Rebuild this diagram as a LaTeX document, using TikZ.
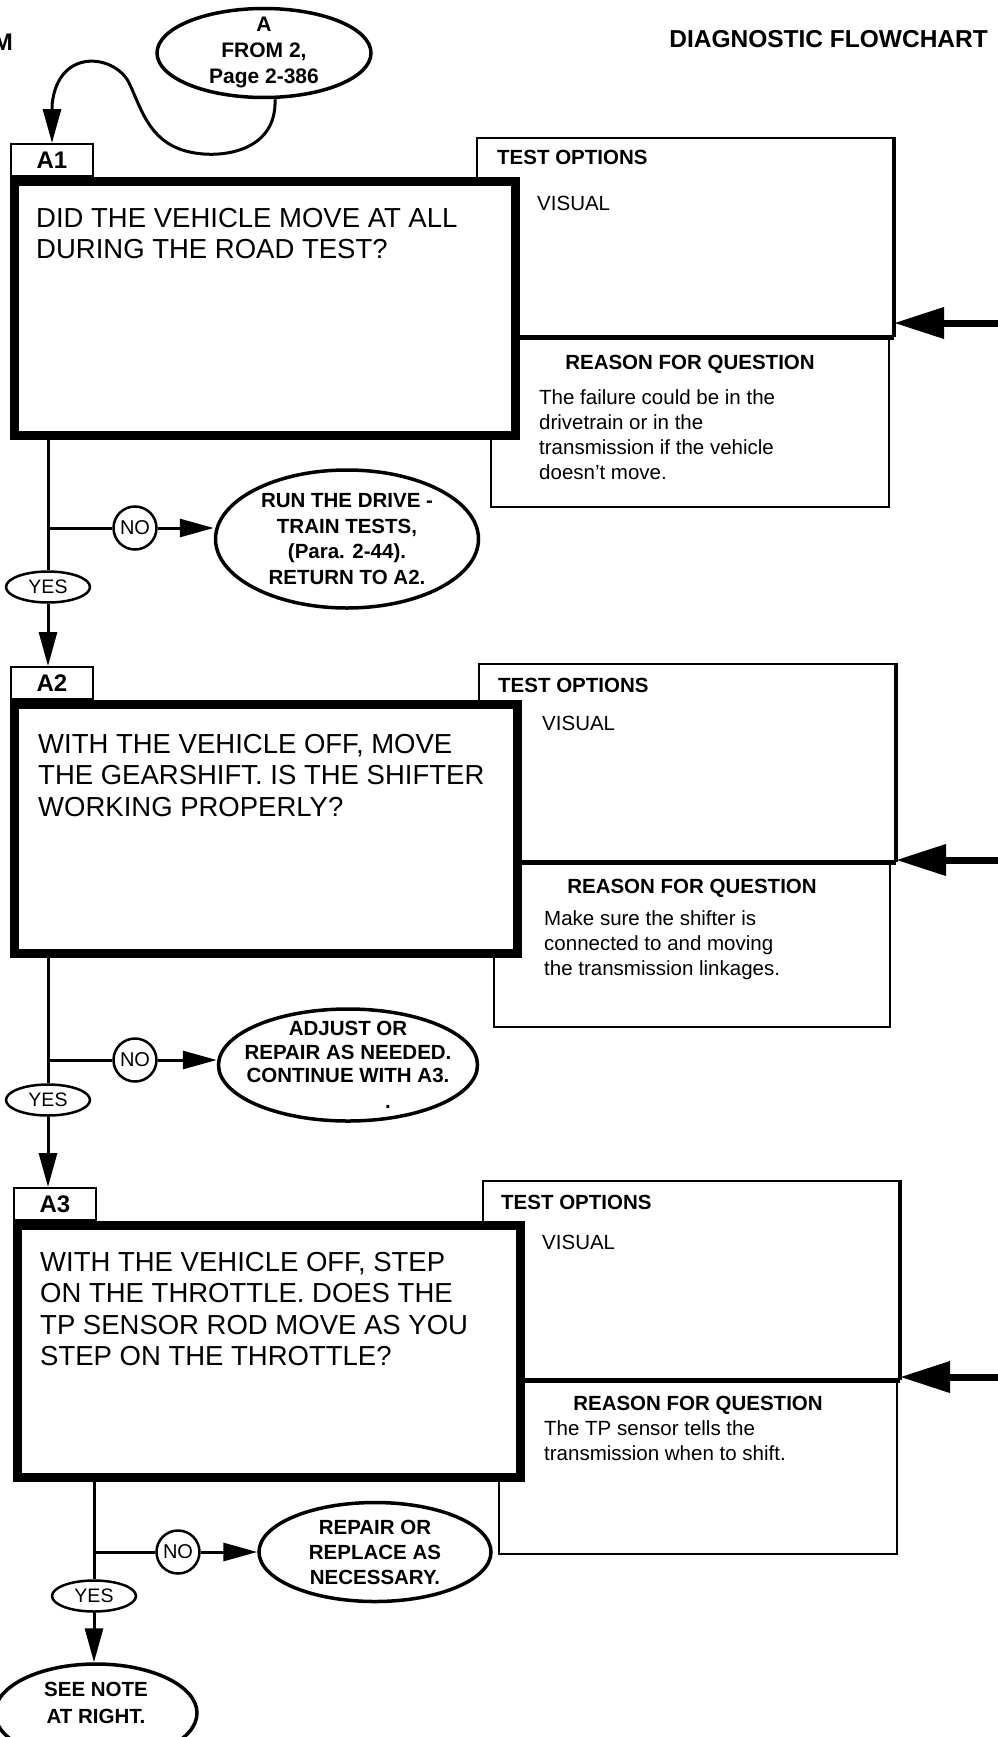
\documentclass[tikz,border=0pt]{standalone}
\usepackage{fontspec}
\setmainfont{Liberation Sans}
\usetikzlibrary{positioning, arrows.meta, shapes.geometric}

\tikzset{%
  every node/.style={inner sep=0pt},
  tag/.style={draw, line width=2pt, minimum width=82pt, minimum height=32pt,
    font=\fontsize{24}{24}\selectfont\bfseries},
  qbox/.style={draw, fill=white, line width=9pt},
  optbox/.style={draw, line width=2pt},
  qtext/.style={anchor=north west, align=left, font=\fontsize{27.5}{31.3}\selectfont},
  head/.style={font=\fontsize{20.5}{20.5}\selectfont\bfseries},
  body/.style={align=left, font=\fontsize{20.5}{25.3}\selectfont},
  answer/.style={draw, ellipse, line width=3.5pt, inner xsep=-14pt, inner ysep=-5pt,
    align=center, font=\fontsize{20.5}{25}\selectfont\bfseries},
  yes/.style={draw, ellipse, line width=2.5pt, minimum width=84pt, minimum height=31pt,
    font=\fontsize{19.5}{19.5}\selectfont},
  no/.style={draw, circle, line width=2.5pt, minimum size=43pt,
    font=\fontsize{20}{20}\selectfont},
  line/.style={line width=3pt},
  flow/.style={line width=3pt, -{Triangle[length=34pt,width=18pt]}},
  feed/.style={line width=7pt, -{Triangle[length=50pt,width=30pt]}}
}

\begin{document}
\begin{tikzpicture}[x=1pt, y=-1pt]
  \useasboundingbox (0,0) rectangle (998,1737);
  \clip (0,0) rectangle (998,1737);

  % page heading
  \node[anchor=east, font=\fontsize{24}{24}\selectfont\bfseries] (sys) at (13,42) {M};
  \node[anchor=east, font=\fontsize{24.5}{24.5}\selectfont\bfseries] (title) at (988,39) {DIAGNOSTIC FLOWCHART};

  % entry point
  \node[answer, minimum width=214pt, minimum height=89pt,
    font=\fontsize{21}{26}\selectfont\bfseries] (st) at (264,53) {A\\FROM 2,\\Page 2-386};

  %% step A1
  \node[optbox, minimum width=416pt, minimum height=198pt] (o1) at (685,237) {};
  \node[optbox, minimum width=398pt, minimum height=169pt] (r1) at (690,422.5) {};
  \node[head, below right=13pt and 21pt of o1.north west] (to1) {TEST OPTIONS};
  \node[body, below right=59pt and 61pt of o1.north west] (vi1) {VISUAL};
  \node[head, below=18pt of r1.north] (rq1) {REASON FOR QUESTION};
  \node[body, below right=52pt and 49pt of r1.north west] (rb1)
    {The failure could be in the\\drivetrain or in the\\transmission if the vehicle\\doesn't move.};
  \draw[line width=5pt] (o1.south west) -- (o1.south east);
  \draw[line width=3.5pt] (o1.north east) -- (o1.south east);

  \node[qbox, minimum width=501pt, minimum height=254pt] (q1) at (265,308.5) {};
  \node[tag] (t1) at (52,160) {A1};
  \node[qtext, below right=31pt and 26pt of q1.north west] (qt1)
    {DID THE VEHICLE MOVE AT ALL\\DURING THE ROAD TEST?};

  \draw[flow] ([xshift=11pt]st.south) .. controls (277,150) and (225,158) .. (195,153)
    .. controls (150,146) and (142,110) .. (130,85)
    .. controls (118,55) and (58,45) .. (52,105) -- (t1.north);

  \coordinate (f1) at (998,323);
  \draw[feed] (f1) -- (f1 -| o1.east);

  \node[yes] (y1) at (48,587) {YES};
  \node[no] (n1) at (135,528) {NO};
  \node[answer, minimum width=263pt, minimum height=138pt,
    font=\fontsize{20.5}{25.7}\selectfont\bfseries] (e1) at (347,539)
    {RUN THE DRIVE -\\TRAIN TESTS,\\(Para. 2-44).\\RETURN TO A2.};
  \draw[line] (q1.south -| y1) -- (y1.north);
  \draw[line] (n1 -| y1) -- (n1);
  \draw[flow] (n1) -- (n1 -| e1.west);

  %% step A2
  \node[optbox, minimum width=416pt, minimum height=197pt] (o2) at (687,762.5) {};
  \node[optbox, minimum width=396pt, minimum height=164pt] (r2) at (692,945) {};
  \node[head, below right=15pt and 20pt of o2.north west] (to2) {TEST OPTIONS};
  \node[body, below right=53pt and 64pt of o2.north west] (vi2) {VISUAL};
  \node[head, below=17pt of r2.north] (rq2) {REASON FOR QUESTION};
  \node[body, below right=48pt and 51pt of r2.north west] (rb2)
    {Make sure the shifter is\\connected to and moving\\the transmission linkages.};
  \draw[line width=5pt] (o2.south west) -- (o2.south east);
  \draw[line width=3.5pt] (o2.north east) -- (o2.south east);

  \node[qbox, minimum width=503pt, minimum height=249pt] (q2) at (266,829) {};
  \node[tag] (t2) at (52,683) {A2};
  \node[qtext, below right=34pt and 28pt of q2.north west] (qt2)
    {WITH THE VEHICLE OFF, MOVE\\THE GEARSHIFT. IS THE SHIFTER\\WORKING PROPERLY?};

  \draw[flow] (y1) -- (t2.north -| y1);

  \coordinate (f2) at (998,860);
  \draw[feed] (f2) -- (f2 -| o2.east);

  \node[yes] (y2) at (48,1100) {YES};
  \node[no] (n2) at (135,1060) {NO};
  \node[answer, minimum width=259pt, minimum height=112pt,
    font=\fontsize{20.5}{23.5}\selectfont\bfseries] (e2) at (348,1065)
    {ADJUST OR\\REPAIR AS NEEDED.\\CONTINUE WITH A3.\\[2.5pt]\hspace*{80pt}.};
  \draw[line] (q2.south -| y2) -- (y2.north);
  \draw[line] (n2 -| y2) -- (n2);
  \draw[flow] (n2) -- (n2 -| e2.west);

  %% step A3
  \node[optbox, minimum width=416pt, minimum height=198pt] (o3) at (691,1280) {};
  \node[optbox, minimum width=398pt, minimum height=173pt] (r3) at (698,1467.5) {};
  \node[head, below right=15pt and 19pt of o3.north west] (to3) {TEST OPTIONS};
  \node[body, below right=55pt and 60pt of o3.north west] (vi3) {VISUAL};
  \node[head, below=16pt of r3.north] (rq3) {REASON FOR QUESTION};
  \node[body, below right=40pt and 46pt of r3.north west] (rb3)
    {The TP sensor tells the\\transmission when to shift.};
  \draw[line width=5pt] (o3.south west) -- (o3.south east);
  \draw[line width=3.5pt] (o3.north east) -- (o3.south east);

  \node[qbox, minimum width=503pt, minimum height=252pt] (q3) at (269,1351.5) {};
  \node[tag] (t3) at (55,1204) {A3};
  \node[qtext, below right=31pt and 27pt of q3.north west] (qt3)
    {WITH THE VEHICLE OFF, STEP\\ON THE THROTTLE. DOES THE\\TP SENSOR ROD MOVE AS YOU\\STEP ON THE THROTTLE?};

  \draw[flow] (y2) -- (t3.north -| y2);

  \coordinate (f3) at (998,1377);
  \draw[feed] (f3) -- (f3 -| o3.east);

  \node[yes] (y3) at (94,1596) {YES};
  \node[no] (n3) at (178,1552) {NO};
  \node[answer, minimum width=232pt, minimum height=99pt] (e3) at (375,1552)
    {REPAIR OR\\REPLACE AS\\NECESSARY.};
  \node[answer, minimum width=202pt, minimum height=98pt,
    font=\fontsize{20.5}{27}\selectfont\bfseries] (s3) at (96,1713)
    {SEE NOTE\\AT RIGHT.\rule[-20pt]{0pt}{20pt}};
  \draw[line] (q3.south -| y3) -- (y3.north);
  \draw[line] (n3 -| y3) -- (n3);
  \draw[flow] (n3) -- (n3 -| e3.west);
  \draw[flow] (y3) -- (s3.north -| y3);
\end{tikzpicture}
\end{document}
